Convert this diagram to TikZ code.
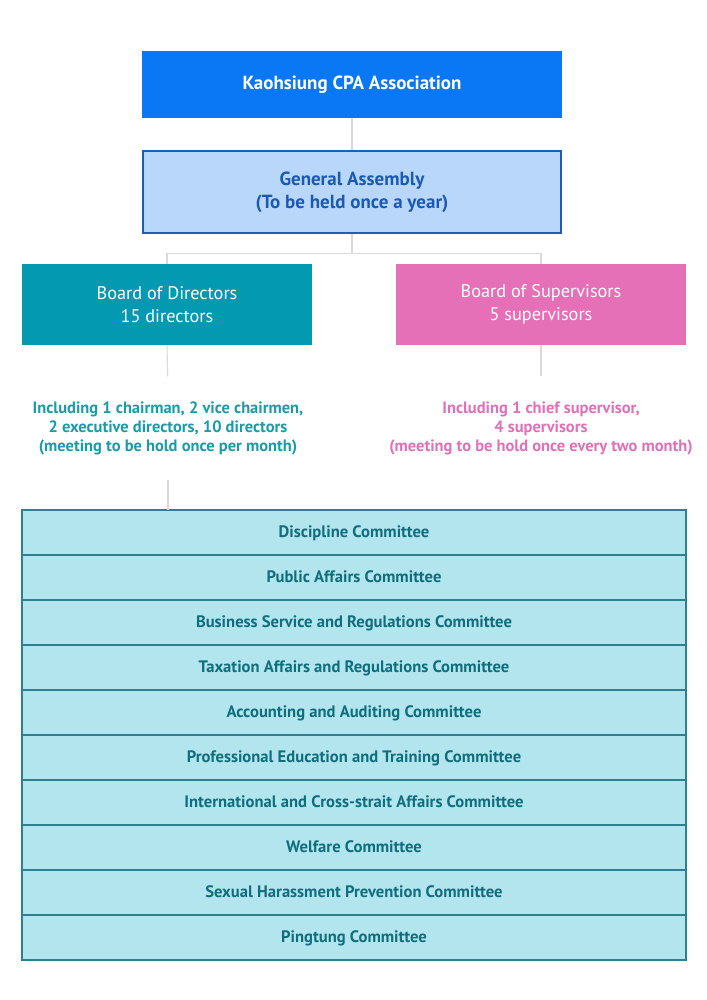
\documentclass[tikz,border=0pt]{standalone}
\usepackage{fontspec}
\setmainfont{PT Sans}
\usetikzlibrary{positioning}
\definecolor{kcpablue}{HTML}{0A78F5}
\definecolor{gafill}{HTML}{B9D7FA}
\definecolor{gadraw}{HTML}{1C5EB7}
\definecolor{gatext}{HTML}{1B5AAE}
\definecolor{dirteal}{HTML}{0399B1}
\definecolor{suppink}{HTML}{E570B8}
\definecolor{noteteal}{HTML}{1A9BA8}
\definecolor{notepink}{HTML}{E070B8}
\definecolor{comfill}{HTML}{B3E5EF}
\definecolor{comdraw}{HTML}{2C8090}
\definecolor{comtext}{HTML}{0F6E7C}
\definecolor{linkgray}{HTML}{DADADA}

\begin{document}
\begin{tikzpicture}[
    % Association node
    headbox/.style={
        rectangle, fill=kcpablue, text=white,
        minimum width=10.5cm, minimum height=1.675cm,
        align=center, font=\fontsize{13.5}{16}\selectfont\bfseries
    },
    % General assembly node
    assembly/.style={
        draw=gadraw, line width=1.3pt, fill=gafill, text=gatext,
        rectangle, minimum width=10.45cm, minimum height=2.05cm,
        align=center, font=\fontsize{13.5}{16.4}\selectfont\bfseries
    },
    % Board nodes
    board/.style={
        rectangle, text=white,
        minimum width=7.25cm, minimum height=2.025cm,
        align=center, font=\fontsize{13}{16.4}\selectfont
    },
    % Notes under the boards
    note/.style={
        align=center, font=\fontsize{11.7}{13.5}\selectfont\bfseries
    },
    % Committee rows
    committee/.style={
        draw=comdraw, line width=0.8pt, fill=comfill, text=comtext,
        rectangle, outer sep=0pt, minimum width=16.6cm, minimum height=1.125cm,
        text height=1.5ex, text depth=0.2ex,
        font=\fontsize{11.8}{13}\selectfont\bfseries
    },
    % Connector style
    link/.style={draw=linkgray, line width=0.8pt}
]

\useasboundingbox (0,0) rectangle (17.675,-25);

% Top of the chart
\node[headbox] (kcpa) at (8.8,-2.1125) {Kaohsiung CPA Association};
\node[assembly, below=0.8cm of kcpa] (assembly) {General Assembly\\(To be held once a year)};

% Boards
\node[board, fill=dirteal] (directors) at (4.175,-7.6125) {Board of Directors\\15 directors};
\node[board, fill=suppink] (supervisors) at (13.525,-7.6125) {Board of Supervisors\\5 supervisors};

% Notes
\node[note, text=noteteal] (dirnote) at (4.2,-10.7)
    {Including 1 chairman, 2 vice chairmen,\\2 executive directors, 10 directors\\(meeting to be hold once per month)};
\node[note, text=notepink] (supnote) at (13.525,-10.7)
    {Including 1 chief supervisor,\\4 supervisors\\(meeting to be hold once every two month)};

% Committees
\node[committee] (com1) at (8.85,-13.3125) {Discipline Committee};
\node[committee, below=0pt of com1] (com2) {Public Affairs Committee};
\node[committee, below=0pt of com2] (com3) {Business Service and Regulations Committee};
\node[committee, below=0pt of com3] (com4) {Taxation Affairs and Regulations Committee};
\node[committee, below=0pt of com4] (com5) {Accounting and Auditing Committee};
\node[committee, below=0pt of com5] (com6) {Professional Education and Training Committee};
\node[committee, below=0pt of com6] (com7) {International and Cross-strait Affairs Committee};
\node[committee, below=0pt of com7] (com8) {Welfare Committee};
\node[committee, below=0pt of com8] (com9) {Sexual Harassment Prevention Committee};
\node[committee, below=0pt of com9] (com10) {Pingtung Committee};

% Connectors
\draw[link] (kcpa) -- (assembly);
\draw[link] (assembly.south) -- ++(0,-0.475) -| (directors.north);
\draw[link] (assembly.south) -- ++(0,-0.475) -| (supervisors.north);
\draw[link, shorten >=0.5cm] (directors.south) -- (dirnote.north);
\draw[link, shorten >=0.5cm] (supervisors.south) -- (supnote.north);
\draw[link, shorten <=0.5cm] (dirnote.south) -- (dirnote.south |- com1.north);

\end{tikzpicture}
\end{document}
